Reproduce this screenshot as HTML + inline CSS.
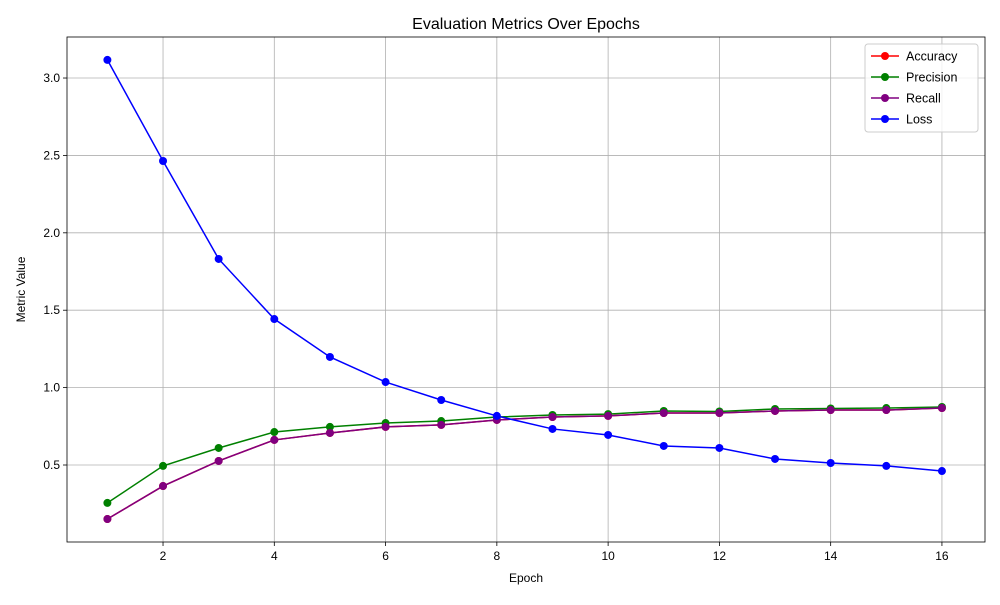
<!DOCTYPE html>
<html><head><meta charset="utf-8"><style>
body{margin:0;background:#fff;}
text{font-family:"Liberation Sans","DejaVu Sans",sans-serif;}
</style></head><body>
<svg id="chart" width="1000" height="600" xmlns="http://www.w3.org/2000/svg"></svg>
<script>
const epochs=[1,2,3,4,5,6,7,8,9,10,11,12,13,14,15,16];
const accuracy=[0.151,0.364,0.526,0.662,0.707,0.746,0.759,0.791,0.810,0.817,0.836,0.836,0.849,0.855,0.855,0.868];
const precision=[0.255,0.494,0.610,0.713,0.746,0.771,0.784,0.810,0.823,0.829,0.849,0.846,0.862,0.865,0.868,0.875];
const recall=[0.151,0.364,0.526,0.662,0.707,0.746,0.759,0.791,0.810,0.817,0.836,0.836,0.849,0.855,0.855,0.868];
const loss=[3.117,2.464,1.831,1.443,1.198,1.036,0.920,0.817,0.733,0.694,0.623,0.610,0.539,0.513,0.494,0.461];
const xTicks=[2,4,6,8,10,12,14,16];
const yTicks=[0.5,1.0,1.5,2.0,2.5,3.0];
const seriesNames=["Accuracy","Precision","Recall","Loss"];
const seriesColors=["red","green","purple","blue"];

const L=67,R=985,T=37,B=542;
const xMin=0.274,xMax=16.774,yMin=0.0026,yMax=3.265;
const xs=v=>L+(v-xMin)/(xMax-xMin)*(R-L);
const ys=v=>B-(v-yMin)/(yMax-yMin)*(B-T);
const svg=document.getElementById('chart');
const NS='http://www.w3.org/2000/svg';
function mk(tag,attrs,parent){const e=document.createElementNS(NS,tag);for(const k in attrs)e.setAttribute(k,attrs[k]);(parent||svg).appendChild(e);return e;}

const grid=mk('g',{});


xTicks.forEach(t=>{
  const x=xs(t);
  mk('line',{x1:x,x2:x,y1:T,y2:B,stroke:'#b0b0b0','stroke-width':0.8},grid);
  mk('line',{x1:x,x2:x,y1:B,y2:B+4,stroke:'#000','stroke-width':0.8});
  const tx=mk('text',{x:x,y:B+18,'text-anchor':'middle','font-size':12});
  tx.textContent=t;
  
  
});
yTicks.forEach(t=>{
  const y=ys(t);
  mk('line',{x1:L,x2:R,y1:y,y2:y,stroke:'#b0b0b0','stroke-width':0.8},grid);
  mk('line',{x1:L-4,x2:L,y1:y,y2:y,stroke:'#000','stroke-width':0.8});
  const tx=mk('text',{x:L-7,y:y+4,'text-anchor':'end','font-size':12});
  tx.textContent=t.toFixed(1);
  
  
});

const data=[accuracy,precision,recall,loss];
data.forEach((arr,si)=>{
  const g=mk('g',{});
  
  
  mk('polyline',{points:arr.map((v,i)=>xs(epochs[i])+','+ys(v)).join(' '),fill:'none',stroke:seriesColors[si],'stroke-width':1.5},g);
  arr.forEach((v,i)=>{
    const c=mk('circle',{cx:xs(epochs[i]),cy:ys(v),r:4,fill:seriesColors[si]},g);
    
    
  });
});

const frame=mk('rect',{x:L,y:T,width:R-L,height:B-T,fill:'none',stroke:'#000','stroke-width':0.8});



const title=mk('text',{x:(L+R)/2,y:29,'text-anchor':'middle','font-size':16});
title.textContent='Evaluation Metrics Over Epochs';


const xl=mk('text',{x:(L+R)/2,y:582,'text-anchor':'middle','font-size':12});
xl.textContent='Epoch';


const yl=mk('text',{x:0,y:0,'text-anchor':'middle','font-size':12,transform:'translate(25,'+((T+B)/2)+') rotate(-90)'});
yl.textContent='Metric Value';



const lg=mk('g',{});


mk('rect',{x:865,y:44,width:113,height:88,rx:3,fill:'#fff','fill-opacity':0.8,stroke:'#ccc'},lg);
seriesNames.forEach((n,i)=>{
  const y=56+i*21;
  const e=mk('g',{},lg);
  
  
  mk('line',{x1:871,x2:899,y1:y,y2:y,stroke:seriesColors[i],'stroke-width':1.5},e);
  mk('circle',{cx:885,cy:y,r:4,fill:seriesColors[i]},e);
  const t=mk('text',{x:906,y:y+4.5,'font-size':12.5},e);
  t.textContent=n;
});
</script>
</body></html>
